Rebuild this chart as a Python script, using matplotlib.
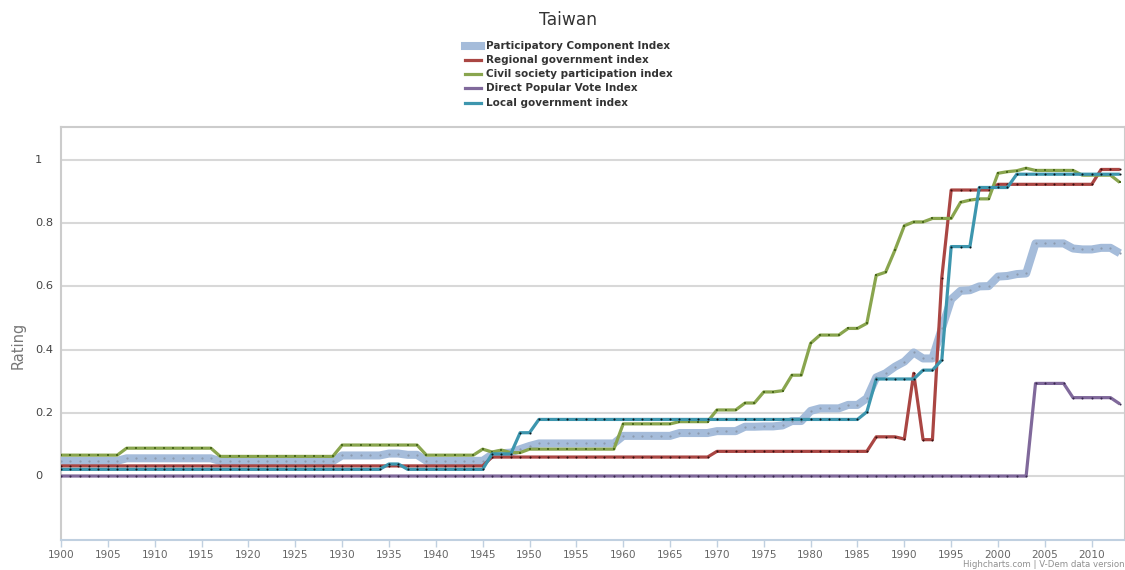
import matplotlib
matplotlib.use("Agg")
import matplotlib.pyplot as plt
import matplotlib.transforms as mtransforms
from matplotlib.lines import Line2D

plt.rcParams['font.family'] = ['DejaVu Sans']

title = "Taiwan"
y_label = "Rating"
series_names = ["Participatory Component Index", "Regional government index",
                "Civil society participation index", "Direct Popular Vote Index",
                "Local government index"]

years = list(range(1900, 2014))

participatory = [
    0.048, 0.048, 0.048, 0.048, 0.048, 0.048, 0.048, 0.056, 0.056, 0.056,
    0.056, 0.056, 0.056, 0.056, 0.056, 0.056, 0.056, 0.047, 0.047, 0.047,
    0.047, 0.047, 0.047, 0.047, 0.047, 0.047, 0.047, 0.047, 0.047, 0.047,
    0.065, 0.065, 0.065, 0.065, 0.065, 0.071, 0.071, 0.067, 0.067, 0.048,
    0.048, 0.048, 0.048, 0.048, 0.048, 0.048, 0.068, 0.072, 0.074, 0.085,
    0.095, 0.103, 0.103, 0.103, 0.103, 0.103, 0.103, 0.103, 0.103, 0.103,
    0.127, 0.127, 0.127, 0.127, 0.127, 0.127, 0.136, 0.136, 0.136, 0.136,
    0.142, 0.142, 0.142, 0.156, 0.156, 0.157, 0.157, 0.160, 0.174, 0.174,
    0.206, 0.214, 0.214, 0.214, 0.225, 0.225, 0.246, 0.312, 0.325, 0.346,
    0.362, 0.391, 0.372, 0.372, 0.467, 0.559, 0.586, 0.588, 0.600, 0.601,
    0.631, 0.633, 0.639, 0.641, 0.736, 0.736, 0.736, 0.736, 0.720, 0.717,
    0.717, 0.722, 0.722, 0.705]

regional = [
    0.032, 0.032, 0.032, 0.032, 0.032, 0.032, 0.032, 0.032, 0.032, 0.032,
    0.032, 0.032, 0.032, 0.032, 0.032, 0.032, 0.032, 0.032, 0.032, 0.032,
    0.032, 0.032, 0.032, 0.032, 0.032, 0.032, 0.032, 0.032, 0.032, 0.032,
    0.032, 0.032, 0.032, 0.032, 0.032, 0.032, 0.032, 0.032, 0.032, 0.032,
    0.032, 0.032, 0.032, 0.032, 0.032, 0.032, 0.060, 0.060, 0.060, 0.060,
    0.060, 0.060, 0.060, 0.060, 0.060, 0.060, 0.060, 0.060, 0.060, 0.060,
    0.060, 0.060, 0.060, 0.060, 0.060, 0.060, 0.060, 0.060, 0.060, 0.060,
    0.078, 0.078, 0.078, 0.078, 0.078, 0.078, 0.078, 0.078, 0.078, 0.078,
    0.078, 0.078, 0.078, 0.078, 0.078, 0.078, 0.078, 0.124, 0.124, 0.124,
    0.117, 0.325, 0.115, 0.115, 0.628, 0.905, 0.905, 0.905, 0.905, 0.905,
    0.923, 0.923, 0.923, 0.923, 0.923, 0.923, 0.923, 0.923, 0.923, 0.923,
    0.923, 0.970, 0.970, 0.970]

civil = [
    0.066, 0.066, 0.066, 0.066, 0.066, 0.066, 0.066, 0.088, 0.088, 0.088,
    0.088, 0.088, 0.088, 0.088, 0.088, 0.088, 0.088, 0.062, 0.062, 0.062,
    0.062, 0.062, 0.062, 0.062, 0.062, 0.062, 0.062, 0.062, 0.062, 0.062,
    0.098, 0.098, 0.098, 0.098, 0.098, 0.098, 0.098, 0.098, 0.098, 0.066,
    0.066, 0.066, 0.066, 0.066, 0.066, 0.085, 0.076, 0.082, 0.074, 0.074,
    0.085, 0.085, 0.085, 0.085, 0.085, 0.085, 0.085, 0.085, 0.085, 0.085,
    0.165, 0.165, 0.165, 0.165, 0.165, 0.165, 0.172, 0.172, 0.172, 0.172,
    0.209, 0.209, 0.209, 0.231, 0.231, 0.266, 0.266, 0.270, 0.319, 0.319,
    0.420, 0.446, 0.446, 0.446, 0.467, 0.467, 0.483, 0.635, 0.645, 0.715,
    0.792, 0.804, 0.804, 0.815, 0.815, 0.815, 0.866, 0.873, 0.877, 0.877,
    0.958, 0.963, 0.966, 0.974, 0.967, 0.967, 0.967, 0.967, 0.967, 0.952,
    0.952, 0.952, 0.952, 0.929]

direct_vote = [0.0] * 104 + [0.293, 0.293, 0.293, 0.293, 0.248, 0.248, 0.248,
                             0.248, 0.248, 0.228]

local = [
    0.021, 0.021, 0.021, 0.021, 0.021, 0.021, 0.021, 0.021, 0.021, 0.021,
    0.021, 0.021, 0.021, 0.021, 0.021, 0.021, 0.021, 0.021, 0.021, 0.021,
    0.021, 0.021, 0.021, 0.021, 0.021, 0.021, 0.021, 0.021, 0.021, 0.021,
    0.021, 0.021, 0.021, 0.021, 0.021, 0.038, 0.038, 0.021, 0.021, 0.021,
    0.021, 0.021, 0.021, 0.021, 0.021, 0.021, 0.070, 0.070, 0.070, 0.137,
    0.137, 0.179, 0.179, 0.179, 0.179, 0.179, 0.179, 0.179, 0.179, 0.179,
    0.179, 0.179, 0.179, 0.179, 0.179, 0.179, 0.179, 0.179, 0.179, 0.179,
    0.179, 0.179, 0.179, 0.179, 0.179, 0.179, 0.179, 0.179, 0.179, 0.179,
    0.179, 0.179, 0.179, 0.179, 0.179, 0.179, 0.203, 0.307, 0.307, 0.307,
    0.307, 0.307, 0.335, 0.335, 0.367, 0.726, 0.726, 0.726, 0.913, 0.913,
    0.913, 0.913, 0.955, 0.955, 0.955, 0.955, 0.955, 0.955, 0.955, 0.955,
    0.955, 0.955, 0.955, 0.955]

y_ticks = [0, 0.2, 0.4, 0.6, 0.8, 1]
y_tick_labels = ["0", "0.2", "0.4", "0.6", "0.8", "1"]
x_ticks = list(range(1900, 2015, 5))

W, H = 1125, 570
fig = plt.figure(figsize=(W / 100, H / 100), dpi=100)
L, R, T, B = 61, 1125, 127, 540
ax = fig.add_axes([L / W, 1 - B / H, (R - L) / W, (B - T) / H])
ax.set_xlim(1900, 2013.55)
ax.set_ylim(-0.2025, 1.1044)

styles = [
    dict(color="#a5bcda", lw=5.8, mk="o", mc="#8c9aae", ms=1.6),
    dict(color="#aa4643", lw=2.3, mk="o", mc="#3a1010", ms=1.5),
    dict(color="#89a54e", lw=2.3, mk="s", mc="#4b6a1c", ms=2.0),
    dict(color="#80699b", lw=2.3, mk="o", mc="#3a2a50", ms=1.5),
    dict(color="#3d96ae", lw=2.3, mk="o", mc="#0a1a20", ms=1.5),
]
data = [participatory, regional, civil, direct_vote, local]
for i, (vals, st) in enumerate(zip(data, styles)):
    ax.plot(years, vals, color=st["color"], lw=st["lw"], zorder=3 + i,
            solid_joinstyle="round", solid_capstyle="butt")
    ax.plot(years, vals, ls="none", marker=st["mk"], ms=st["ms"],
            mfc=st["mc"], mec=st["mc"], mew=0, zorder=3 + i)

# grid and frame
for yt in y_ticks:
    ax.axhline(yt, color="#d8d8d8", lw=1.5, zorder=1)
for s in ["top", "left", "right"]:
    ax.spines[s].set_color("#cccccc")
    ax.spines[s].set_linewidth(1.5)
ax.spines["bottom"].set_color("#c0d0e0")
ax.spines["bottom"].set_linewidth(1.5)

ax.set_yticks(y_ticks)
ax.set_yticklabels([])
ax.tick_params(axis="y", length=0)
ytrans = mtransforms.blended_transform_factory(fig.transFigure, ax.transData)
for yt, lab in zip(y_ticks, y_tick_labels):
    ax.text(35 / W, yt, lab, transform=ytrans,
            ha="left", va="center", fontsize=8.2, color="#444444")

ax.set_xticks(x_ticks)
ax.set_xticklabels([str(x) for x in x_ticks], fontsize=7.6, color="#666666")
ax.tick_params(axis="x", length=5, width=1, color="#c0d0e0", pad=2)

fig.text(18 / W, 1 - 345 / H, y_label, rotation=90, ha="center", va="center",
         fontsize=10.5, color="#777777")

fig.text(568 / W, 1 - 20 / H, title, ha="center", va="center",
         fontsize=12.3, color="#333333")

# legend
leg_y = [46, 60, 74, 88, 103]
for name, st, yy in zip(series_names, styles, leg_y):
    yf = 1 - yy / H
    fig.add_artist(Line2D([465 / W, 481 / W], [yf, yf], color=st["color"],
                          lw=st["lw"], transform=fig.transFigure))
    fig.text(486 / W, yf, name, ha="left", va="center", fontsize=7.5,
             fontweight="bold", color="#333333")

fig.text(963 / W, 1 / H, "Highcharts.com | V-Dem data version", ha="left",
         va="bottom", fontsize=6.2, color="#909090")

fig.savefig("out.png", dpi=100)
